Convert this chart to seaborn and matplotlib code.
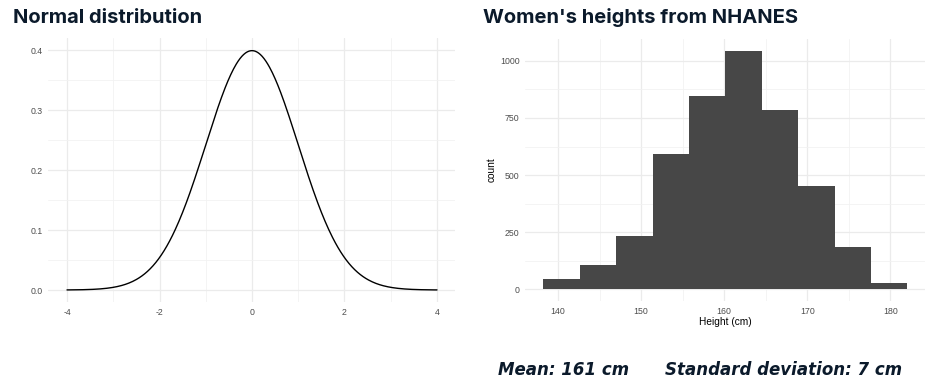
import numpy as np
import pandas as pd
import matplotlib
matplotlib.use("Agg")
import matplotlib.pyplot as plt
import seaborn as sns

# ---- data ----
norm_mean = 0.0
norm_sd = 1.0
norm_x_range = [-4, 4]

bin_edges = [138.2, 142.6, 147.0, 151.4, 155.8, 160.1, 164.5, 168.9, 173.3, 177.7, 182.0]
bin_counts = [45, 105, 232, 593, 848, 1044, 785, 450, 185, 26]

left_xticks = [-4, -2, 0, 2, 4]
left_yticks = [0.0, 0.1, 0.2, 0.3, 0.4]
right_xticks = [140, 150, 160, 170, 180]
right_yticks = [0, 250, 500, 750, 1000]

title_left = "Normal distribution"
title_right = "Women's heights from NHANES"
caption_mean = "Mean: 161 cm"
caption_sd = "Standard deviation: 7 cm"

# ---- build frames ----
xs = np.linspace(norm_x_range[0], norm_x_range[1], 401)
dens = np.exp(-0.5 * ((xs - norm_mean) / norm_sd) ** 2) / (norm_sd * np.sqrt(2 * np.pi))
df_norm = pd.DataFrame({"x": xs, "density": dens})

centers = [(a + b) / 2 for a, b in zip(bin_edges[:-1], bin_edges[1:])]
df_hist = pd.DataFrame({"height": centers, "count": bin_counts})

sns.set_theme(style="white")
plt.rcParams['font.family'] = ['Liberation Sans', 'DejaVu Sans']

fig = plt.figure(figsize=(9.28, 3.84), dpi=100)
W, H = 928, 384

def ax_rect(x0, x1, y0, y1):
    return [x0 / W, 1 - y1 / H, (x1 - x0) / W, (y1 - y0) / H]

grid_major = "#ebebeb"
grid_minor = "#f2f2f2"
tick_col = "#4d4d4d"
title_col = "#0b1a2b"

def style_axes(ax):
    for s in ax.spines.values():
        s.set_visible(False)
    ax.set_axisbelow(True)
    ax.grid(True, which="major", color=grid_major, linewidth=0.9)
    ax.grid(True, which="minor", color=grid_minor, linewidth=0.6)
    ax.tick_params(axis="both", which="both", length=0, labelsize=6.3,
                   labelcolor=tick_col, pad=4)

# Left axes
axL = fig.add_axes(ax_rect(48.5, 455.5, 38, 302))
sns.lineplot(data=df_norm, x="x", y="density", ax=axL, color="black", linewidth=1.0)
axL.set_xlim(-4.4, 4.4)
axL.set_ylim(-0.02, 0.42)
axL.set_xticks(left_xticks)
axL.set_xticklabels([str(t) for t in left_xticks])
axL.set_xticks([-3, -1, 1, 3], minor=True)
axL.set_yticks(left_yticks)
axL.set_yticklabels([f"{t:.1f}" for t in left_yticks])
axL.set_yticks([0.05, 0.15, 0.25, 0.35], minor=True)
axL.set_xlabel("")
axL.set_ylabel("")
style_axes(axL)

# Right axes
axR = fig.add_axes(ax_rect(525, 925, 39, 301))
sns.histplot(data=df_hist, x="height", weights="count", bins=bin_edges, ax=axR,
             color="#474747", alpha=1, edgecolor="none", linewidth=0)
span = bin_edges[-1] - bin_edges[0]
axR.set_xlim(bin_edges[0] - 0.05 * span, bin_edges[-1] + 0.05 * span)
ymax = max(bin_counts)
axR.set_ylim(-0.05 * ymax, 1.05 * ymax)
axR.set_xticks(right_xticks)
axR.set_xticklabels([str(t) for t in right_xticks])
axR.set_xticks([145, 155, 165, 175], minor=True)
axR.set_yticks(right_yticks)
axR.set_yticklabels([str(t) for t in right_yticks])
axR.set_yticks([125, 375, 625, 875], minor=True)
style_axes(axR)
axR.set_xlabel("Height (cm)", fontsize=7.3, color="black", labelpad=1)
axR.set_ylabel("count", fontsize=7.3, color="black", labelpad=2)

# Titles
fig.text(13 / W, 1 - 23 / H, title_left, fontsize=14.5, fontweight="bold",
         color=title_col, family=["Inter", "DejaVu Sans"], va="baseline", ha="left")
fig.text(483 / W, 1 - 23 / H, title_right, fontsize=14.5, fontweight="bold",
         color=title_col, family=["Inter", "DejaVu Sans"], va="baseline", ha="left")

# Captions
fig.text(498 / W, 1 - 375 / H, caption_mean, fontsize=12, fontweight="bold",
         style="italic", color=title_col, family=["DejaVu Sans"],
         va="baseline", ha="left")
fig.text(665 / W, 1 - 375 / H, caption_sd, fontsize=12, fontweight="bold",
         style="italic", color=title_col, family=["DejaVu Sans"],
         va="baseline", ha="left")

fig.savefig("out.png", dpi=100)
